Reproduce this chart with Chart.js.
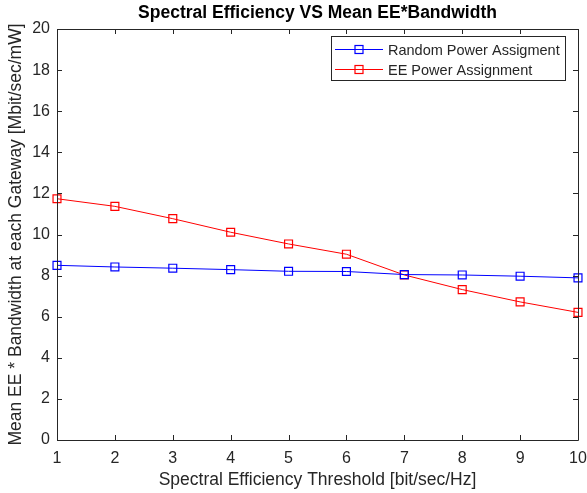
<!DOCTYPE html>
<html>
<head>
<meta charset="utf-8">
<title>Spectral Efficiency VS Mean EE*Bandwidth</title>
<script src="https://cdn.jsdelivr.net/npm/chart.js@4.4.1/dist/chart.umd.min.js"></script>
<style>
  html, body { margin: 0; padding: 0; background: #fff; }
  #wrap { width: 587px; height: 493px; }
</style>
</head>
<body>
<div id="wrap"><canvas id="seChart" width="587" height="493"></canvas></div>
<script>
// spectral efficiency thresholds (x) and mean EE*bandwidth per gateway (y)
const thresholds = [1, 2, 3, 4, 5, 6, 7, 8, 9, 10];
const randomPower = [8.50, 8.42, 8.36, 8.29, 8.21, 8.20, 8.05, 8.03, 7.97, 7.89];
const eePower = [11.74, 11.37, 10.77, 10.11, 9.54, 9.04, 8.03, 7.32, 6.72, 6.21];
const seriesNames = ['Random Power Assigment', 'EE Power Assignment'];
const seriesColors = ['#0000ff', '#ff0000'];
const xTicks = [1, 2, 3, 4, 5, 6, 7, 8, 9, 10];
const yTicks = [0, 2, 4, 6, 8, 10, 12, 14, 16, 18, 20];

const FONT = '"Liberation Sans", Arial, Helvetica, sans-serif';
const INK = '#262626';

const toPoints = (ys) => thresholds.map((x, i) => ({ x: x, y: ys[i] }));

// axes box with inward ticks on all four sides
const boxTicks = {
  id: 'boxTicks',
  afterDraw(chart) {
    const { ctx, chartArea: a, scales } = chart;
    const len = 5;
    ctx.save();
    ctx.strokeStyle = INK;
    ctx.lineWidth = 1;
    ctx.beginPath();
    ctx.rect(Math.round(a.left) + 0.5, Math.round(a.top) + 0.5,
      Math.round(a.right - a.left), Math.round(a.bottom - a.top));
    xTicks.forEach(v => {
      const px = Math.round(scales.x.getPixelForValue(v)) + 0.5;
      ctx.moveTo(px, a.bottom); ctx.lineTo(px, a.bottom - len);
      ctx.moveTo(px, a.top); ctx.lineTo(px, a.top + len);
    });
    yTicks.forEach(v => {
      const py = Math.round(scales.y.getPixelForValue(v)) + 0.5;
      ctx.moveTo(a.left, py); ctx.lineTo(a.left + len, py);
      ctx.moveTo(a.right, py); ctx.lineTo(a.right - len, py);
    });
    ctx.stroke();
    ctx.restore();
  }
};

// legend box in the upper right corner of the plot
const innerLegend = {
  id: 'innerLegend',
  afterDraw(chart) {
    const { ctx } = chart;
    const x0 = 331, y0 = 36, w = 234, h = 44;
    ctx.save();
    ctx.fillStyle = '#fff';
    ctx.fillRect(x0, y0, w, h);
    ctx.strokeStyle = INK;
    ctx.lineWidth = 1;
    ctx.strokeRect(x0 + 0.5, y0 + 0.5, w, h);
    ctx.font = '14.5px ' + FONT;
    ctx.textBaseline = 'middle';
    seriesNames.forEach((name, i) => {
      const y = y0 + 13.5 + i * 20;
      ctx.strokeStyle = seriesColors[i];
      ctx.lineWidth = 1;
      ctx.beginPath();
      ctx.moveTo(x0 + 4, y); ctx.lineTo(x0 + 52, y);
      ctx.stroke();
      ctx.lineWidth = 1.2;
      ctx.strokeRect(x0 + 24, y - 4, 8, 8);
      ctx.fillStyle = INK;
      ctx.fillText(name, x0 + 57, y + 1);
    });
    ctx.restore();
  }
};

const makeSeries = (i, values) => ({
  label: seriesNames[i],
  data: toPoints(values),
  borderColor: seriesColors[i],
  backgroundColor: 'rgba(0,0,0,0)',
  borderWidth: 1,
  pointStyle: 'rect',
  pointRadius: 5.6,
  pointBorderWidth: 1.2,
  pointBorderColor: seriesColors[i],
  pointBackgroundColor: 'rgba(0,0,0,0)',
  fill: false,
  tension: 0
});

new Chart(document.getElementById('seChart').getContext('2d'), {
  type: 'line',
  data: {
    datasets: [makeSeries(0, randomPower), makeSeries(1, eePower)]
  },
  options: {
    responsive: false,
    animation: false,
    clip: false,
    layout: { padding: { left: 0, right: 9, top: 0, bottom: 0 } },
    plugins: {
      legend: { display: false },
      tooltip: { enabled: false },
      title: {
        display: true,
        fullSize: false,
        text: 'Spectral Efficiency VS Mean EE*Bandwidth',
        color: '#000',
        font: { family: FONT, size: 17.5, weight: 'bold' },
        padding: { top: 3, bottom: 5 }
      }
    },
    scales: {
      x: {
        type: 'linear',
        min: 1,
        max: 10,
        afterBuildTicks: (s) => { s.ticks = xTicks.map(v => ({ value: v })); },
        afterFit: (s) => { s.height = 53; s.paddingLeft = 0; s.paddingRight = 0; },
        grid: { display: false, drawTicks: false },
        border: { display: false },
        ticks: { color: INK, padding: 9, font: { family: FONT, size: 16 } },
        title: {
          display: true,
          text: 'Spectral Efficiency Threshold [bit/sec/Hz]',
          color: INK,
          font: { family: FONT, size: 17.5 },
          padding: { top: 0, bottom: 2 }
        }
      },
      y: {
        min: 0,
        max: 20,
        afterBuildTicks: (s) => { s.ticks = yTicks.map(v => ({ value: v })); },
        afterFit: (s) => { s.width = 57; s.paddingTop = 0; s.paddingBottom = 0; },
        grid: { display: false, drawTicks: false },
        border: { display: false },
        ticks: { color: INK, padding: 7, font: { family: FONT, size: 16 } },
        title: {
          display: true,
          text: 'Mean EE * Bandwidth at each Gateway [Mbit/sec/mW]',
          color: INK,
          font: { family: FONT, size: 17.5 },
          padding: { top: 6, bottom: 0 }
        }
      }
    }
  },
  plugins: [boxTicks, innerLegend]
});
</script>
</body>
</html>
